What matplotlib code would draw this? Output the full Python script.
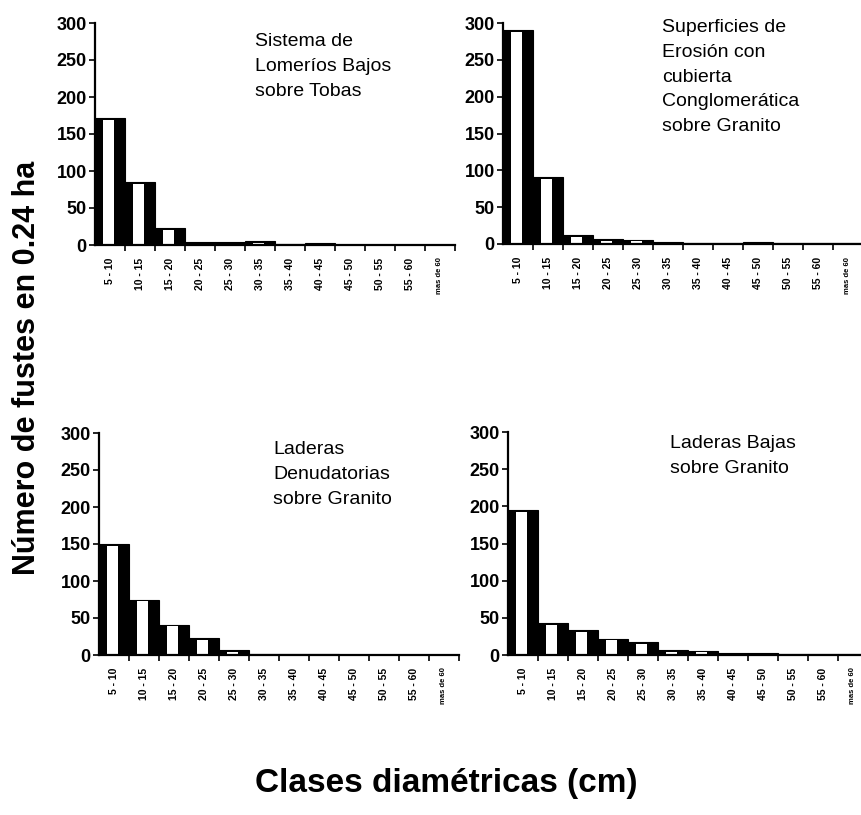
import matplotlib
matplotlib.use("Agg")
import matplotlib.pyplot as plt
import numpy as np
from matplotlib.ticker import FixedLocator

# Diameter classes (cm)
classes = ["5 - 10", "10 - 15", "15 - 20", "20 - 25", "25 - 30", "30 - 35",
           "35 - 40", "40 - 45", "45 - 50", "50 - 55", "55 - 60", "mas de 60"]

# Number of stems in 0.24 ha per landform unit
lomerios_tobas = [171, 85, 23, 4, 4, 5, 2, 3, 0, 0, 0, 0]
superficies_erosion = [290, 91, 12, 7, 6, 3, 1, 1, 3, 1, 1, 1]
laderas_denudatorias = [150, 75, 41, 23, 7, 2, 2, 2, 0, 0, 0, 0]
laderas_bajas = [195, 43, 33, 22, 17, 7, 6, 3, 3, 1, 1, 1]

titles = [
    "Sistema de\nLomeríos Bajos\nsobre Tobas",
    "Superficies de\nErosión con\ncubierta\nConglomerática\nsobre Granito",
    "Laderas\nDenudatorias\nsobre Granito",
    "Laderas Bajas\nsobre Granito",
]
yticks = [0, 50, 100, 150, 200, 250, 300]

W, H = 862, 815
fig = plt.figure(figsize=(W / 100, H / 100), dpi=100)

narrow = ["Liberation Sans Narrow", "Liberation Sans", "DejaVu Sans"]
sans = ["Liberation Sans", "DejaVu Sans"]

# panel boxes in pixels: left, right, top, bottom
boxes = [(95, 455, 23, 245), (503, 862, 23, 244),
         (99, 459, 433, 655), (508, 862, 432, 655)]
title_pos = [(255, 33), (662, 19), (273, 441), (670, 435)]
data = [lomerios_tobas, superficies_erosion, laderas_denudatorias, laderas_bajas]
cat_px = 30.0

for (l, r, t, b), vals, title, (tx, ty) in zip(boxes, data, titles, title_pos):
    ax = fig.add_axes([l / W, (H - b) / H, (r - l) / W, (b - t) / H])
    x = np.arange(len(classes))
    v = np.array(vals, dtype=float)
    ax.bar(x, v, width=1.0, color="black", edgecolor="black", linewidth=0.8, zorder=2)
    inner = np.clip(v - 3.0, 0, None)
    ax.bar(x - 0.06, inner, width=0.36, bottom=0.6, color="white",
           edgecolor="none", zorder=3)
    ax.set_ylim(0, 300)
    ax.set_xlim(-0.5, -0.5 + (r - l) / cat_px)
    for s in ("top", "right"):
        ax.spines[s].set_visible(False)
    for s in ("left", "bottom"):
        ax.spines[s].set_linewidth(1.6)
        ax.spines[s].set_zorder(4)
    ax.set_yticks(yticks)
    ax.set_yticklabels([str(y) for y in yticks], family=narrow,
                       fontweight="bold", fontsize=13)
    ax.tick_params(axis="y", direction="out", length=4, width=1.2, pad=2)
    ax.set_xticks(x)
    labs = ax.set_xticklabels(classes, rotation=90, family=narrow,
                              fontweight="bold", fontsize=7.5, va="top")
    labs[-1].set_fontsize(5.5)
    ax.xaxis.set_minor_locator(FixedLocator(np.arange(len(classes)) + 0.5))
    ax.tick_params(axis="x", which="major", length=0, pad=9)
    ax.tick_params(axis="x", which="minor", direction="out", length=4, width=1.2)
    fig.text(tx / W, (H - ty) / H, title, family=sans, fontsize=14,
             va="top", ha="left", linespacing=1.6)

fig.text(27 / W, (H - 368) / H, "Número de fustes en 0.24 ha", family=sans,
         fontweight="bold", fontsize=22, rotation=90, ha="center", va="center")
fig.text(255 / W, (H - 792) / H, "Clases diamétricas (cm)", family=sans,
         fontweight="bold", fontsize=24, ha="left", va="baseline")

fig.savefig("out.png", dpi=100, facecolor="white")
